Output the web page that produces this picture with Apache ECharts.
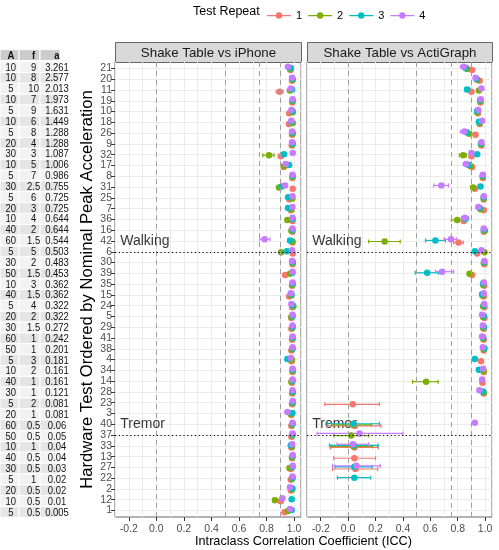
<!DOCTYPE html>
<html>
<head>
<meta charset="utf-8">
<title>ICC by hardware test</title>
<script src="https://cdn.jsdelivr.net/npm/echarts@6/dist/echarts.min.js"></script>
<style>
  html, body { margin: 0; padding: 0; background: #fff; }
  #chart { width: 499px; height: 550px; }
</style>
</head>
<body>
<div id="chart"></div>
<script>
// hardware tests, top to bottom (ordered by nominal peak acceleration)
var tests = [21,20,11,19,10,18,26,9,32,17,8,31,25,7,36,16,42,6,30,39,35,15,24,5,29,41,38,4,34,14,28,23,3,40,37,33,13,27,22,2,12,1];
// side table: amplitude, frequency, peak acceleration
var tabA = [10,10,5,10,5,10,5,20,30,10,5,30,5,20,10,40,60,5,30,50,10,40,5,20,30,60,50,5,10,40,30,5,20,60,50,10,40,30,5,20,10,5];
var tabF = ['9','8','10','7','9','6','8','4','3','5','7','2.5','6','3','4','2','1.5','5','2','1.5','3','1.5','4','2','1.5','1','1','3','2','1','1','2','1','0.5','0.5','1','0.5','0.5','1','0.5','0.5','0.5'];
var tabAcc = ['3.261','2.577','2.013','1.973','1.631','1.449','1.288','1.288','1.087','1.006','0.986','0.755','0.725','0.725','0.644','0.644','0.544','0.503','0.483','0.453','0.362','0.362','0.322','0.322','0.272','0.242','0.201','0.181','0.161','0.161','0.121','0.081','0.081','0.06','0.05','0.04','0.04','0.03','0.02','0.02','0.01','0.005'];

var repeats = ['1', '2', '3', '4'];
var colors = ['#F8766D', '#7CAE00', '#00BFC4', '#C77CFF'];
var panels = ['Shake Table vs iPhone', 'Shake Table vs ActiGraph'];

// Shake Table vs iPhone, ICC per repeat (same order as tests)
var phoneIcc1 = [0.975,0.985,0.895,0.987,0.964,0.962,0.985,0.983,0.903,0.925,0.987,0.99,0.966,0.976,0.988,0.988,0.988,0.99,0.988,0.935,0.985,0.964,0.985,0.98,0.98,0.985,0.98,0.98,0.988,0.985,0.985,0.985,0.98,0.98,0.98,0.98,0.985,0.976,0.976,0.976,0.903,0.93];
var phoneIcc2 = [0.97,0.99,0.97,0.988,0.99,0.99,0.99,0.988,0.818,0.927,0.99,0.89,0.988,0.982,0.951,0.98,0.988,0.906,0.99,0.97,0.988,0.98,0.995,0.98,0.988,0.99,0.985,0.985,0.99,0.98,0.99,0.99,0.976,0.985,0.985,0.985,0.985,0.966,0.985,0.985,0.861,0.955];
var phoneIcc3 = [0.976,0.988,0.985,0.99,0.988,0.98,0.988,0.99,0.927,0.964,0.99,0.91,0.956,0.956,0.99,0.988,0.97,0.948,0.99,0.988,0.99,0.98,0.988,0.99,0.99,0.99,0.99,0.951,0.99,0.99,0.99,0.99,0.988,0.99,0.99,0.976,0.99,0.99,0.99,0.988,0.982,0.982];
var phoneIcc4 = [0.955,0.985,0.976,0.988,0.98,0.98,0.985,0.985,0.99,0.939,0.988,0.935,0.988,0.988,0.988,0.988,0.786,0.985,0.985,0.988,0.988,0.976,0.98,0.988,0.988,0.988,0.988,0.976,0.988,0.988,0.988,0.99,0.951,0.988,0.988,0.985,0.99,0.99,0.988,0.97,0.915,0.97];
// 95% CI bounds (null where the bar hides behind the point)
var phoneLo1 = [null,null,0.87,null,null,null,null,null,0.89,null,null,null,null,null,null,null,null,null,null,null,null,null,null,null,null,null,null,null,null,null,null,null,null,null,null,null,null,null,null,null,0.89,null];
var phoneHi1 = [null,null,0.92,null,null,null,null,null,0.915,null,null,null,null,null,null,null,null,null,null,null,null,null,null,null,null,null,null,null,null,null,null,null,null,null,null,null,null,null,null,null,0.915,null];
var phoneLo2 = [null,null,null,null,null,null,null,null,0.773,null,null,0.88,null,null,null,null,null,0.895,null,null,null,null,null,null,null,null,null,null,null,null,null,null,null,null,null,null,null,null,null,null,0.846,null];
var phoneHi2 = [null,null,null,null,null,null,null,null,0.854,null,null,0.9,null,null,null,null,null,0.917,null,null,null,null,null,null,null,null,null,null,null,null,null,null,null,null,null,null,null,null,null,null,0.878,null];
var phoneLo3 = [];
var phoneHi3 = [];
var phoneLo4 = [null,null,null,null,null,null,null,null,null,null,null,null,null,null,null,null,0.751,null];
var phoneHi4 = [null,null,null,null,null,null,null,null,null,null,null,null,null,null,null,null,0.825,null];

// Shake Table vs ActiGraph, ICC per repeat
var actiIcc1 = [0.905,0.96,0.9,0.966,0.948,0.96,0.93,0.973,0.9,0.905,0.983,0.925,0.99,0.99,0.844,0.99,0.806,0.942,0.995,0.905,0.993,0.99,0.995,0.995,0.99,0.99,0.99,0.97,0.99,0.98,0.99,0.034,null,0.049,null,0.046,0.046,0.054,null,null,null,null];
var actiIcc2 = [0.868,0.942,0.954,0.966,0.942,0.96,0.885,0.97,0.84,0.892,0.983,0.912,0.99,0.966,0.796,0.998,0.267,0.995,0.99,0.886,0.985,0.98,0.985,0.985,0.985,0.985,0.99,null,0.99,0.569,0.99,null,null,0.035,0.022,0.04,null,null,null,null,null,null];
var actiIcc3 = [0.856,0.935,0.868,0.963,0.942,0.954,0.868,0.97,0.942,0.88,0.983,0.966,0.99,0.96,0.856,0.99,0.637,0.925,0.993,0.577,0.985,0.978,0.99,0.99,0.99,0.985,0.995,0.925,0.954,null,0.985,null,null,0.04,null,0.04,null,0.046,0.046,null,null,null];
var actiIcc4 = [0.844,0.93,0.973,0.968,0.95,0.978,0.849,0.973,0.9,0.861,0.983,0.68,0.99,0.95,0.852,0.99,0.75,0.973,0.995,0.686,0.99,0.99,0.993,0.978,0.983,0.978,0.983,null,0.985,0.978,0.958,null,null,0.925,0.083,0.034,null,0.061,null,null,null,null];
var actiLo1 = [null,null,null,null,null,null,null,null,null,null,null,null,null,null,null,null,0.77,null,null,null,null,null,null,null,null,null,null,null,null,null,null,-0.17,null,-0.153,null,-0.13,-0.105,-0.114,null,null,null,null];
var actiHi1 = [null,null,null,null,null,null,null,null,null,null,null,null,null,null,null,null,0.84,null,null,null,null,null,null,null,null,null,null,null,null,null,null,0.228,null,0.24,null,0.22,0.2,0.216,null,null,null,null];
var actiLo2 = [null,null,null,null,null,null,null,null,0.812,null,null,null,null,null,0.754,null,0.15,null,null,null,null,null,null,null,null,null,null,null,null,0.47,null,null,null,-0.12,-0.104,-0.12,null,null,null,null,null,null];
var actiHi2 = [null,null,null,null,null,null,null,null,0.864,null,null,null,null,null,0.827,null,0.38,null,null,null,null,null,null,null,null,null,null,null,null,0.657,null,null,null,0.17,0.151,0.18,null,null,null,null,null,null];
var actiLo3 = [null,null,0.85,null,null,null,null,null,null,null,null,null,null,null,null,null,0.565,null,null,0.49,null,null,null,null,null,null,null,null,null,null,null,null,null,-0.153,null,-0.136,null,-0.095,-0.078,null,null,null];
var actiHi3 = [null,null,0.89,null,null,null,null,null,null,null,null,null,null,null,null,null,0.71,null,null,0.66,null,null,null,null,null,null,null,null,null,null,null,null,null,0.228,null,0.219,null,0.175,0.165,null,null,null];
var actiLo4 = [0.82,null,null,null,null,null,0.82,null,null,0.84,null,0.625,null,null,0.827,null,0.70,null,null,0.637,null,null,null,null,null,null,null,null,null,null,null,null,null,null,-0.226,-0.08,null,-0.114,null,null,null,null];
var actiHi4 = [0.875,null,null,null,null,null,0.875,null,null,0.885,null,0.733,null,null,0.88,null,0.79,null,null,0.77,null,null,null,null,null,null,null,null,null,null,null,null,null,null,0.40,0.15,null,0.234,null,null,null,null];

// reference lines and groups
var iccCuts = [0, 0.5, 0.75, 0.9];
var groupBreaks = [6, 37];
var groupLabels = ['Walking', 'Tremor'];
var groupLabelTests = [42, 40];
var xTicks = [-0.2, 0, 0.2, 0.4, 0.6, 0.8, 1.0];

var FONT = '"Liberation Sans", Arial, sans-serif';
var chart = echarts.init(document.getElementById('chart'));

var rowVals = tests.map(function (t, i) { return 41 - i; });
function rowOf(test) { return 41 - tests.indexOf(test); }
var dodge = [-0.15, -0.05, 0.05, 0.15];

var panelData = [
  { icc: [phoneIcc1, phoneIcc2, phoneIcc3, phoneIcc4], lo: [phoneLo1, phoneLo2, phoneLo3, phoneLo4], hi: [phoneHi1, phoneHi2, phoneHi3, phoneHi4] },
  { icc: [actiIcc1, actiIcc2, actiIcc3, actiIcc4], lo: [actiLo1, actiLo2, actiLo3, actiLo4], hi: [actiHi1, actiHi2, actiHi3, actiHi4] }
];
var gridPos = [ { left: 115, width: 186 }, { left: 307, width: 185 } ];
var TOP = 62, HEIGHT = 455;
var ROW = HEIGHT / 42.2;

var grids = [], xAxes = [], yAxes = [], series = [], graphics = [];

gridPos.forEach(function (gp, g) {
  grids.push({ left: gp.left, top: TOP, width: gp.width, height: HEIGHT, show: true,
    borderColor: '#666', borderWidth: 1, backgroundColor: '#fff' });
  xAxes.push({
    gridIndex: g, type: 'value', min: -0.3, max: 1.05, interval: 0.1,
    axisLine: { show: false }, axisTick: { show: false },
    axisLabel: { color: '#4d4d4d', fontSize: 10.5, fontFamily: FONT, margin: 7,
      formatter: function (v) { var k = Math.round(v * 10); return k % 2 === 0 ? (k / 10).toFixed(1) : ''; } },
    splitLine: { show: true, lineStyle: { color: '#ebebeb', width: 1 } }
  });
  xAxes.push({
    gridIndex: g, type: 'value', min: -0.3, max: 1.05, position: 'bottom',
    axisLine: { show: false }, axisLabel: { show: false }, splitLine: { show: false },
    axisTick: { show: true, customValues: xTicks, length: 4, lineStyle: { color: '#333' } }
  });
  // value axis used for plotting; grid lines at each test row
  yAxes.push({
    gridIndex: g, type: 'value', min: -0.6, max: 41.6,
    axisLine: { show: false },
    axisTick: { show: false, customValues: rowVals },
    axisLabel: { show: false },
    splitLine: { show: true, lineStyle: { color: '#ebebeb', width: 1 } }
  });

  // reference lines
  series.push({
    type: 'line', xAxisIndex: g * 2, yAxisIndex: g, data: [], silent: true,
    markLine: {
      silent: true, symbol: 'none', label: { show: false }, animation: false,
      data: iccCuts.map(function (c) { return { xAxis: c, lineStyle: { color: '#a0a0a0', type: [5, 4], width: 1 } }; })
        .concat(groupBreaks.map(function (t) { return { yAxis: rowOf(t), lineStyle: { color: '#000', type: [1.2, 2.6], width: 1.2 } }; }))
    }
  });
  // group annotations
  series.push({
    type: 'scatter', xAxisIndex: g * 2, yAxisIndex: g, symbolSize: 0, silent: true, z: 1,
    data: groupLabels.map(function (l, k) { return [-0.262, rowOf(groupLabelTests[k]), l]; }),
    label: { show: true, position: 'right', distance: 0, color: '#000', fontSize: 14, fontFamily: FONT,
      formatter: function (p) { return p.data[2]; } }
  });

  var pd = panelData[g];
  repeats.forEach(function (rep, r) {
    var bars = [];
    pd.icc[r].forEach(function (v, i) {
      var lo = pd.lo[r][i], hi = pd.hi[r][i];
      if (lo != null && hi != null) bars.push([lo, hi, 41 - i + dodge[r]]);
    });
    series.push({
      type: 'custom', name: rep, xAxisIndex: g * 2, yAxisIndex: g, z: 3, data: bars,
      encode: { x: [0, 1], y: 2 },
      renderItem: function (params, api) {
        var y = api.value(2);
        var a = api.coord([api.value(0), y]);
        var b = api.coord([api.value(1), y]);
        var st = { stroke: colors[r], lineWidth: 1.2 };
        var h = 2;
        return { type: 'group', children: [
          { type: 'line', shape: { x1: a[0], y1: a[1], x2: b[0], y2: b[1] }, style: st },
          { type: 'line', shape: { x1: a[0], y1: a[1] - h, x2: a[0], y2: a[1] + h }, style: st },
          { type: 'line', shape: { x1: b[0], y1: b[1] - h, x2: b[0], y2: b[1] + h }, style: st }
        ] };
      }
    });
  });
  repeats.forEach(function (rep, r) {
    var pts = [];
    pd.icc[r].forEach(function (v, i) { if (v != null) pts.push([v, 41 - i + dodge[r]]); });
    series.push({
      type: 'scatter', name: rep, xAxisIndex: g * 2, yAxisIndex: g, z: 4, data: pts,
      symbolSize: 6.5, itemStyle: { color: colors[r], opacity: 1 }
    });
  });

  // facet strip
  graphics.push({
    type: 'group', left: gp.left, top: 42, children: [
      { type: 'rect', shape: { x: 0, y: 0, width: gp.width, height: 20 },
        style: { fill: '#d9d9d9', stroke: '#666', lineWidth: 1 } },
      { type: 'text', x: gp.width / 2, y: 10.5,
        style: { text: panels[g], fill: '#1a1a1a', font: '13.3px ' + FONT, textAlign: 'center', textVerticalAlign: 'middle' } }
    ]
  });
});

// side table grid (rows slightly taller than the plot rows)
grids.push({ left: 0, top: 60.5, width: 60, height: 458, show: false });
xAxes.push({ gridIndex: 2, type: 'value', min: 0, max: 60, show: false });
yAxes.push({ gridIndex: 2, type: 'value', min: -0.6, max: 41.6, show: false });
var colCenters = [9.5, 29.5, 50];
var colEdges = [0, 19, 40, 60];
var tableRows = tests.map(function (t, i) { return [41 - i]; });
tableRows.push([42.1]);
series.push({
  type: 'custom', xAxisIndex: 4, yAxisIndex: 2, silent: true, clip: false, data: tableRows,
  encode: { y: 0 },
  renderItem: function (params, api) {
    var i = params.dataIndex;
    var header = i === tests.length;
    var y0 = api.coord([0, api.value(0) + 0.5])[1];
    var y1 = api.coord([0, api.value(0) - 0.5])[1];
    var cells = header ? ['A', 'f', 'a'] : [String(tabA[i]), tabF[i], tabAcc[i]];
    var fill = header ? '#cccccc' : (i % 2 === 0 ? '#f2f2f2' : '#e5e5e5');
    var kids = [];
    cells.forEach(function (c, k) {
      var xl = api.coord([colEdges[k], 0])[0], xr = api.coord([colEdges[k + 1], 0])[0];
      kids.push({ type: 'rect', shape: { x: xl, y: y0, width: xr - xl, height: y1 - y0 }, style: { fill: fill, stroke: '#fff', lineWidth: 1 } });
    });
    cells.forEach(function (c, k) {
      var cx = api.coord([colCenters[k], 0])[0];
      kids.push({ type: 'text', x: cx, y: (y0 + y1) / 2 + 0.5, scaleX: 0.86, originX: cx, originY: (y0 + y1) / 2,
        style: { text: c, fill: '#111', font: (header ? 'bold ' : '') + '11px ' + FONT, textAlign: 'center', textVerticalAlign: 'middle' } });
    });
    return { type: 'group', children: kids };
  }
});

// test labels: category axis on a thin grid whose band centres match the plotting rows
grids.push({ left: 115, top: TOP + 0.1 * ROW, width: 1, height: HEIGHT - 0.2 * ROW, show: false });
xAxes.push({ gridIndex: 3, type: 'value', show: false });
yAxes.push({
  gridIndex: 3, type: 'category', data: tests.slice().reverse().map(String), boundaryGap: true,
  axisLine: { show: false },
  axisTick: { show: true, alignWithLabel: true, interval: 0, length: 4, lineStyle: { color: '#333' } },
  axisLabel: { interval: 0, fontSize: 10.5, color: '#4d4d4d', fontFamily: FONT, margin: 3 },
  splitLine: { show: false },
  name: 'Hardware Test Ordered by Nominal Peak Acceleration',
  nameLocation: 'middle', nameGap: 15,
  nameTextStyle: { fontSize: 16.6, color: '#000', fontFamily: FONT }
});

// legend title and x axis title
graphics.push({ type: 'text', left: 193, top: 5, style: { text: 'Test Repeat', fill: '#000', font: '12.5px ' + FONT } });
graphics.push({ type: 'text', x: 303.5, y: 541, style: { text: 'Intraclass Correlation Coefficient (ICC)', fill: '#000', font: '12.7px ' + FONT, textAlign: 'center', textVerticalAlign: 'middle' } });

var option = {
  animation: false,
  backgroundColor: '#fff',
  textStyle: { fontFamily: FONT },
  legend: {
    left: 262, top: 5, itemWidth: 24, itemHeight: 7, itemGap: 6,
    data: repeats.map(function (r, k) {
      return { name: r, icon: 'path://M0,3H24V4.2H0Z M12,0.2A3.2,3.2 0 1,1 11.99,0.2Z', itemStyle: { color: colors[k] } };
    }),
    textStyle: { fontSize: 11, color: '#000', fontFamily: FONT }
  },
  grid: grids,
  xAxis: xAxes,
  yAxis: yAxes,
  series: series,
  graphic: graphics
};
chart.setOption(option);
</script>
</body>
</html>
